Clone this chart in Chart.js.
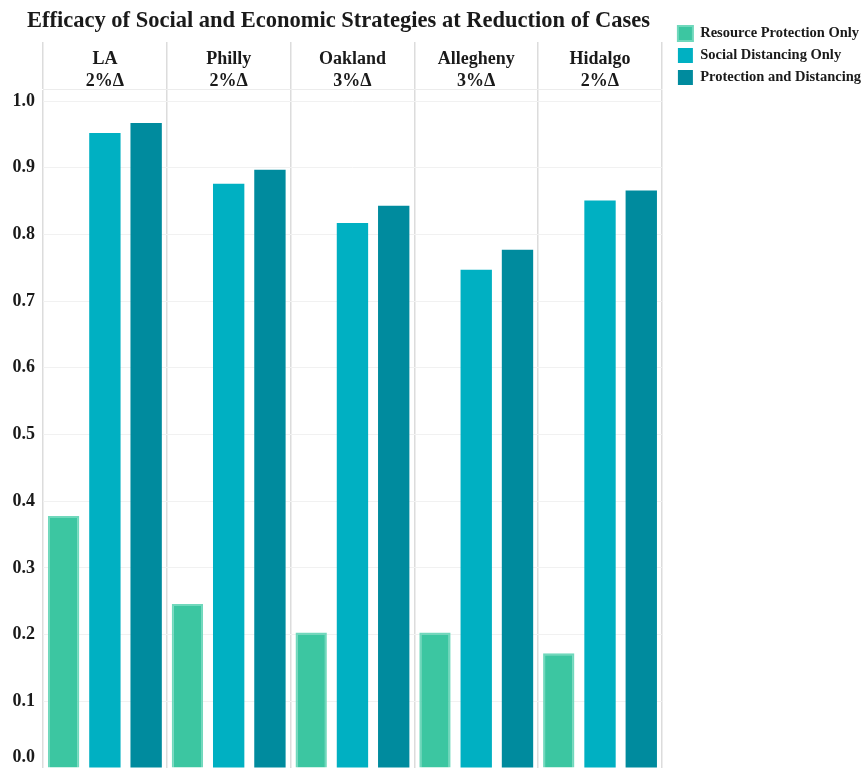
<!DOCTYPE html>
<html>
<head>
<meta charset="utf-8">
<script src="https://cdn.jsdelivr.net/npm/chart.js@4/dist/chart.umd.min.js"></script>
<style>
  html, body { margin: 0; padding: 0; background: #fff; overflow: hidden; }
  #wrap { width: 862px; height: 768px; }
</style>
</head>
<body>
<div id="wrap"><canvas id="chart" width="862" height="768"></canvas></div>
<script>
// Counties with their % change shown under the name
const counties = ['LA', 'Philly', 'Oakland', 'Allegheny', 'Hidalgo'];
const changes = ['2%Δ', '2%Δ', '3%Δ', '3%Δ', '2%Δ'];

// Reduction of cases per strategy
const resourceOnly = [0.378, 0.246, 0.203, 0.203, 0.172];
const distancingOnly = [0.952, 0.876, 0.817, 0.747, 0.851];
const protectionAndDistancing = [0.967, 0.897, 0.843, 0.777, 0.866];

const seriesNames = ['Resource Protection Only', 'Social Distancing Only', 'Protection and Distancing'];
const yMin = 0;
const yMax = 1.018;
const yStep = 0.1;

const serif = '"Liberation Serif", "Times New Roman", serif';
const labels = counties.map((c, i) => [c, changes[i]]);

// nudge title and legend to where they sit in the original
const placeBlocks = {
    id: 'placeBlocks',
    afterLayout(chart) {
        if (chart.titleBlock) chart.titleBlock.left = 27;
        if (chart.legend) {
            chart.legend.left += 9;
            chart.legend.right += 9;
            chart.legend.top += 19;
            chart.legend.bottom += 19;
        }
    }
};

new Chart(document.getElementById('chart'), {
    type: 'bar',
    data: {
        labels: labels,
        datasets: [
            {
                label: seriesNames[0],
                data: resourceOnly,
                backgroundColor: 'rgb(60,198,161)',
                borderColor: 'rgb(112,216,188)',
                borderWidth: 2
            },
            {
                label: seriesNames[1],
                data: distancingOnly,
                backgroundColor: 'rgb(0,176,194)',
                borderColor: 'rgb(0,176,194)',
                borderWidth: 0
            },
            {
                label: seriesNames[2],
                data: protectionAndDistancing,
                backgroundColor: 'rgb(0,139,158)',
                borderColor: 'rgb(0,139,158)',
                borderWidth: 0
            }
        ]
    },
    options: {
        responsive: false,
        animation: false,
        layout: { padding: { left: 13, top: 0, right: 0, bottom: 0 } },
        datasets: {
            bar: { categoryPercentage: 1.0, barPercentage: 0.76 }
        },
        plugins: {
            title: {
                display: true,
                text: 'Efficacy of Social and Economic Strategies at Reduction of Cases',
                align: 'start',
                color: '#1a1a1a',
                font: { family: serif, size: 22.5, weight: 'bold' },
                padding: { top: 8, bottom: -18 }
            },
            legend: {
                position: 'right',
                align: 'start',
                labels: {
                    boxWidth: 15,
                    boxHeight: 15,
                    padding: 7,
                    color: '#1a1a1a',
                    font: { family: serif, size: 14.5, weight: 'bold' }
                }
            },
            tooltip: { enabled: false }
        },
        scales: {
            x: {
                position: 'top',
                offset: true,
                grid: {
                    offset: true,
                    color: '#dcdcdc',
                    lineWidth: 1.5,
                    tickLength: 47,
                    tickColor: '#dcdcdc'
                },
                border: { display: true, color: '#ececec' },
                ticks: {
                    color: '#1a1a1a',
                    padding: -50,
                    maxRotation: 0,
                    font: { family: serif, size: 18, weight: 'bold' }
                },
                afterFit: (scale) => { scale.height = 72; }
            },
            y: {
                min: yMin,
                max: yMax,
                grid: { color: '#f1f1f1', drawTicks: false },
                border: { display: false },
                ticks: {
                    stepSize: yStep,
                    includeBounds: false,
                    padding: 8,
                    color: '#1a1a1a',
                    font: { family: serif, size: 18, weight: 'bold' },
                    // bottom label pushed up so it stays inside the picture
                    callback: (v) => v === 0 ? ['0.0', ''] : Number(v).toFixed(1)
                },
                afterFit: (scale) => { scale.width = 30; scale.paddingBottom = 0; }
            }
        }
    },
    plugins: [placeBlocks]
});
</script>
</body>
</html>
